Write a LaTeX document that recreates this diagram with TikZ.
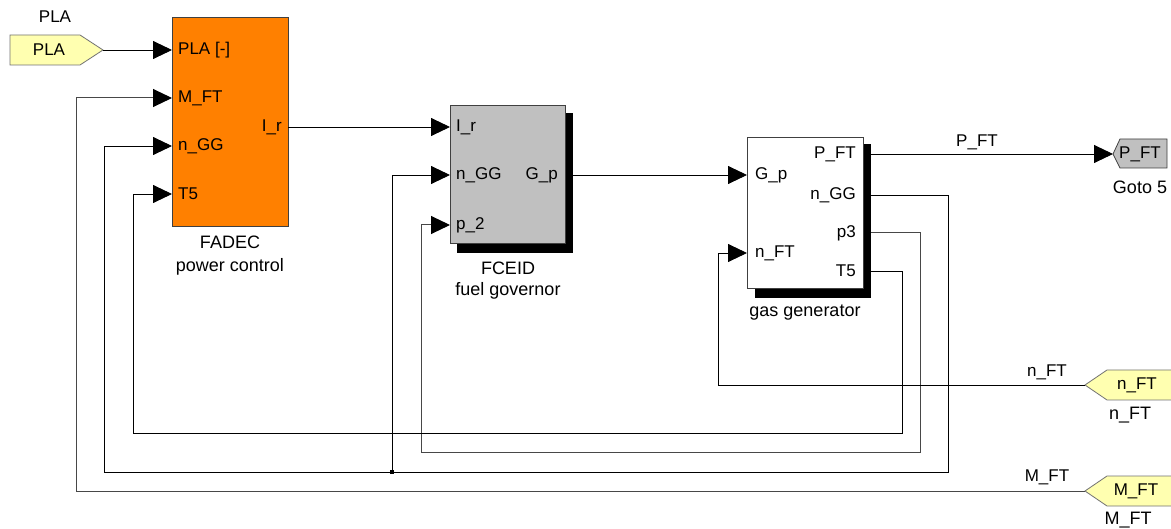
\documentclass[tikz,border=0pt]{standalone}
\usepackage{fontspec}
\setmainfont{Liberation Sans}
\usetikzlibrary{arrows.meta}
\definecolor{inyel}{RGB}{255,255,176}
\definecolor{orng}{RGB}{255,128,0}
\definecolor{blkgray}{RGB}{192,192,192}
\tikzset{
 wire/.style={line width=0.9pt, draw=black},
 gwire/.style={line width=1pt, draw=black!72},
 sig/.style={-{Triangle[length=19pt,width=18pt,color=black]}},
 txt/.style={font=\fontsize{17}{19}\selectfont, inner sep=0pt},
 captxt/.style={font=\fontsize{18}{20}\selectfont, inner sep=0pt},
 blockbox/.style={draw=black!75, line width=0.8pt, anchor=north west, inner sep=0pt},
 shadowbox/.style={fill=black, anchor=north west, inner sep=0pt, draw=none},
 portl/.style={txt, anchor=west},
 portr/.style={txt, anchor=east},
 inport/.style={draw=black!55, line width=0.8pt, fill=inyel},
 gotoport/.style={draw=black!75, line width=0.8pt, fill=blkgray},
}
\begin{document}
\begin{tikzpicture}[x=1pt,y=-1pt]
\clip (0,0) rectangle (1171,529);
\fill[white] (0,0) rectangle (1171,529);

% ---------- PLA inport ----------
\draw[inport] (10,35) -- (80,35) -- (103,50) -- (80,65) -- (10,65) -- cycle;
\coordinate (plaT) at (103,50);
\node[txt] (platxt) at (49,50) {PLA};
\node[txt] (plalab) at (55,17) {PLA};

% ---------- FADEC ----------
\node[blockbox, fill=orng, minimum width=116, minimum height=209] (fadec) at (172,17) {};
\coordinate (fi1) at (172,50);
\coordinate (fi2) at (172,98);
\coordinate (fi3) at (172,146);
\coordinate (fi4) at (172,194);
\coordinate (fo1) at (288,127);
\node[portl] (fl1) at (178,50) {PLA [-]};
\node[portl] (fl2) at (178,98) {M\_FT};
\node[portl] (fl3) at (178,146) {n\_GG};
\node[portl] (fl4) at (178,194) {T5};
\node[portr] (flo) at (282,127) {I\_r};
\node[captxt] (fname1) at (230,242) {FADEC};
\node[captxt] (fname2) at (230,267) {power control};

% ---------- FCEID ----------
\node[shadowbox, minimum width=116, minimum height=140] (cshadow) at (457,113) {};
\node[blockbox, fill=blkgray, minimum width=115, minimum height=138] (fceid) at (450,105) {};
\coordinate (ci1) at (450,127);
\coordinate (ci2) at (450,175);
\coordinate (ci3) at (450,225);
\coordinate (co1) at (573,175);
\node[portl] (cl1) at (456,127) {I\_r};
\node[portl] (cl2) at (456,175) {n\_GG};
\node[portl] (cl3) at (456,225) {p\_2};
\node[portr] (clo) at (558,175) {G\_p};
\node[captxt] (cname1) at (508,268) {FCEID};
\node[captxt] (cname2) at (508,291) {fuel governor};

% ---------- gas generator ----------
\node[shadowbox, minimum width=116, minimum height=154] (gshadow) at (755,144) {};
\node[blockbox, fill=white, minimum width=116, minimum height=151] (gg) at (747,137) {};
\coordinate (gi1) at (747,175);
\coordinate (gi2) at (747,253);
\coordinate (go1) at (871,154);
\coordinate (go2) at (871,195);
\coordinate (go3) at (871,233);
\coordinate (go4) at (871,271);
\node[portl] (gl1) at (755,175) {G\_p};
\node[portl] (gl2) at (755,253) {n\_FT};
\node[portr] (glo1) at (856,154) {P\_FT};
\node[portr] (glo2) at (856,195) {n\_GG};
\node[portr] (glo3) at (856,233) {p3};
\node[portr] (glo4) at (856,271) {T5};
\node[captxt] (gname) at (805,313) {gas generator};

% ---------- Goto P_FT ----------
\draw[gotoport] (1113,154) -- (1120,139) -- (1167,139) -- (1167,168) -- (1120,168) -- cycle;
\coordinate (gotoT) at (1113,154);
\node[txt] (gototxt) at (1140,154) {P\_FT};
\node[captxt] (gotolab) at (1140,187) {Goto 5};

% ---------- n_FT inport ----------
\draw[inport] (1085,385) -- (1107,370) -- (1180,370) -- (1180,400) -- (1107,400) -- cycle;
\coordinate (nftT) at (1085,385);
\node[txt] (nfttxt) at (1137,385) {n\_FT};
\node[captxt] (nftlab) at (1130,415) {n\_FT};

% ---------- M_FT inport ----------
\draw[inport] (1085,491) -- (1107,476) -- (1180,476) -- (1180,506) -- (1107,506) -- cycle;
\coordinate (mftT) at (1085,491);
\node[txt] (mfttxt) at (1136,491) {M\_FT};
\node[captxt] (mftlab) at (1128,520) {M\_FT};

% ---------- connectors ----------
\draw[wire, sig] (plaT) -- (fi1);
\draw[wire, sig] (fo1) -- (ci1);
\draw[wire, sig] (co1) -- (gi1);
\draw[wire, sig] (go1) -- (gotoT);
\node[txt] (pftlab) at (977,142) {P\_FT};

\coordinate (jn) at (392,472);
\draw[wire, sig] (go2) -- (948,195) -- (948,472) -- (104,472) -- (104,146) -- (fi3);
\draw[wire, sig] (jn) -- (392,175) -- (ci2);
\fill[black] (390,470) rectangle (394,474);

\draw[gwire, sig] (go3) -- (920,233) -- (920,453) -- (421,453) -- (421,225) -- (ci3);
\draw[wire, sig] (go4) -- (902,271) -- (902,433) -- (133,433) -- (133,194) -- (fi4);

\draw[wire, sig] (nftT) -- (718,385) -- (718,253) -- (gi2);
\node[txt] (nftline) at (1047,372) {n\_FT};
\draw[gwire, sig] (mftT) -- (76,491) -- (76,98) -- (fi2);
\node[txt] (mftline) at (1047,477) {M\_FT};
\end{tikzpicture}
\end{document}
